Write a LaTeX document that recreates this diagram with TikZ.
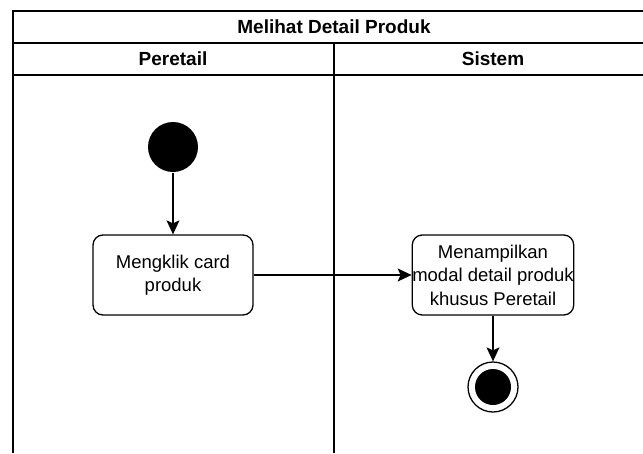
\documentclass[tikz,border=0pt]{standalone}
\usepackage{fontspec}
\setmainfont{Liberation Sans}
\usetikzlibrary{arrows.meta}

\begin{document}
\begin{tikzpicture}[x=1pt, y=-1pt, inner sep=1pt, line width=1.3pt,
    font=\fontsize{18.5}{23.5}\selectfont,
    lanetitle/.style={font=\fontsize{19}{22}\selectfont\bfseries},
    action/.style={draw, rounded corners=10pt, align=center,
      minimum width=160pt, minimum height=80pt, inner sep=0pt},
    startdot/.style={circle, fill=black, minimum size=50pt, inner sep=0pt},
    enddot/.style={circle, draw, fill=white, minimum size=50pt, inner sep=0pt},
    flow/.style={-{Stealth[length=14pt, width=13pt, inset=3pt]}}]
    \useasboundingbox (0,0) rectangle (643,453);
    % swimlanes
    \draw (13,453) -- (13,11) -- (650,11);
    \draw (13,43) -- (650,43);
    \draw (13,75) -- (650,75);
    \draw (334,43) -- (334,453);
    \node[lanetitle] (judul) at (334,27) {Melihat Detail Produk};
    \node[lanetitle] (peretail) at (173,59) {Peretail};
    \node[lanetitle] (sistem) at (493,59) {Sistem};
    % activity nodes
    \node[startdot] (mulai) at (173,147) {};
    \node[action] (klik) at (173,275) {Mengklik card\\produk};
    \node[action] (tampil) at (493,275) {Menampilkan\\modal detail produk\\khusus Peretail};
    \node[enddot] (selesai) at (493,387) {};
    \fill (selesai) circle (18pt);
    % flows
    \draw[flow] (mulai) -- (klik);
    \draw[flow] (klik) -- (tampil);
    \draw[flow] (tampil) -- (selesai);
\end{tikzpicture}
\end{document}
